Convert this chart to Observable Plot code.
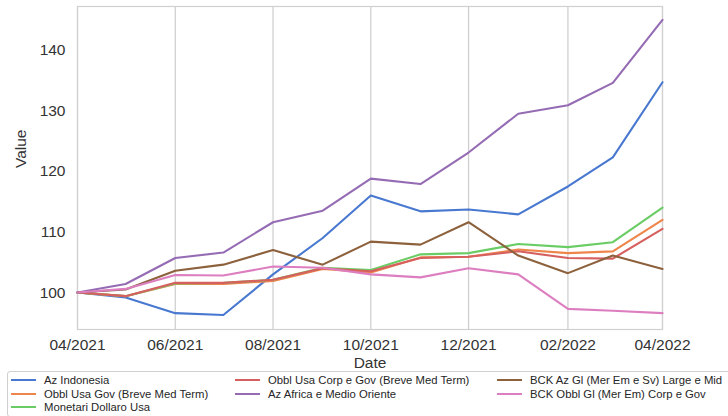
<!DOCTYPE html>
<html>
<head>
<meta charset="utf-8">
<script src="https://cdn.jsdelivr.net/npm/d3@7"></script>
<script src="https://cdn.jsdelivr.net/npm/@observablehq/plot@0.6"></script>
<style>
  html, body { margin: 0; padding: 0; background: #fff; }
  #wrap { position: relative; width: 728px; height: 416px; overflow: hidden; font-family: "Liberation Sans", Arial, sans-serif; }
  #legend { position: absolute; left: 7px; top: 371px; width: 740px; height: 46px; border: 1px solid #d0d0d0; border-radius: 3px; box-sizing: border-box; background: #fff; }
  .item { position: absolute; height: 14px; font-size: 11.3px; color: #262626; white-space: nowrap; line-height: 14px; }
  .item .sw { position: absolute; left: 0; top: 6px; width: 25px; height: 2px; }
  .item .lb { position: absolute; left: 33px; top: 0; }
</style>
</head>
<body>
<div id="wrap"></div>
<script>
const dates = ["2021-04-01","2021-05-01","2021-06-01","2021-07-01","2021-08-01","2021-09-01","2021-10-01","2021-11-01","2021-12-01","2022-01-01","2022-02-01","2022-03-01","2022-04-01"];
const xTickDates = ["2021-04-01","2021-06-01","2021-08-01","2021-10-01","2021-12-01","2022-02-01","2022-04-01"];
const seriesNames = [
  "Az Indonesia",
  "Obbl Usa Gov (Breve Med Term)",
  "Monetari Dollaro Usa",
  "Obbl Usa Corp e Gov (Breve Med Term)",
  "Az Africa e Medio Oriente",
  "BCK Az Gl (Mer Em e Sv) Large e Mid",
  "BCK Obbl Gl (Mer Em) Corp e Gov"
];
const azIndonesia   = [100, 99.2, 96.6, 96.3, 103.0, 109.0, 116.0, 113.4, 113.7, 112.9, 117.5, 122.3, 134.7];
const obblUsaGov    = [100, 99.4, 101.4, 101.4, 101.9, 103.9, 103.3, 105.8, 105.9, 107.1, 106.5, 106.8, 112.0];
const monetariUsd   = [100, 99.4, 101.5, 101.6, 102.1, 104.1, 103.7, 106.3, 106.5, 108.0, 107.5, 108.3, 114.0];
const obblUsaCorp   = [100, 99.4, 101.6, 101.6, 102.1, 104.0, 103.5, 105.7, 105.9, 106.8, 105.7, 105.6, 110.5];
const azAfrica      = [100, 101.4, 105.7, 106.6, 111.6, 113.5, 118.8, 117.9, 123.1, 129.5, 130.9, 134.6, 145.0];
const bckAzGl       = [100, 100.5, 103.6, 104.6, 107.0, 104.6, 108.4, 107.9, 111.6, 106.1, 103.2, 106.1, 103.9];
const bckObblGl     = [100, 100.6, 102.9, 102.8, 104.3, 104.1, 103.0, 102.5, 104.0, 103.0, 97.3, 97.0, 96.6];
const yTicks = [100, 110, 120, 130, 140];
const colors = ["#4878d0", "#ee854a", "#6acc64", "#d65f5f", "#956cb4", "#8c613c", "#dc7ec0"];

const seriesValues = [azIndonesia, obblUsaGov, monetariUsd, obblUsaCorp, azAfrica, bckAzGl, bckObblGl];
const parse = d3.utcParse("%Y-%m-%d");
const rows = [];
seriesNames.forEach((name, s) => {
  seriesValues[s].forEach((v, i) => rows.push({series: name, date: parse(dates[i]), value: v}));
});
const xTicks = xTickDates.map(parse);

const chart = Plot.plot({
  width: 728,
  height: 370,
  marginTop: 6,
  marginBottom: 41,
  marginLeft: 77,
  marginRight: 66,
  style: {fontFamily: "Liberation Sans, Arial, sans-serif", fontSize: "15.5px", color: "#333", background: "#fff"},
  x: {type: "utc", domain: [parse(dates[0]), parse(dates[dates.length - 1])]},
  y: {domain: [93.9, 147.2]},
  color: {domain: seriesNames, range: colors},
  marks: [
    Plot.gridX(xTicks, {stroke: "#cccccc", strokeOpacity: 1, strokeWidth: 1.2}),
    Plot.frame({stroke: "#d0d0d0", strokeWidth: 1.2}),
    Plot.axisX({ticks: xTicks, tickFormat: d3.utcFormat("%m/%Y"), tickSize: 0, tickPadding: 9, label: null}),
    Plot.axisY({ticks: yTicks, tickSize: 0, tickPadding: 12, label: null}),
    Plot.text(["Date"], {frameAnchor: "bottom", dy: 38, fontSize: 15.5, fill: "#333"}),
    Plot.text(["Value"], {frameAnchor: "left", dx: -56.5, rotate: -90, fontSize: 15.5, fill: "#333"}),
    Plot.line(rows, {x: "date", y: "value", z: "series", stroke: "series", strokeWidth: 2.1, strokeLinejoin: "round"})
  ]
});

const wrap = document.getElementById("wrap");
wrap.appendChild(chart);

const legend = document.createElement("div");
legend.id = "legend";
wrap.appendChild(legend);
const colX = [3, 227, 489];
const rowY = [1, 14.5, 28];
const layout = [[0,0],[0,1],[0,2],[1,0],[1,1],[2,0],[2,1]];
seriesNames.forEach((name, i) => {
  const [c, r] = layout[i];
  const it = document.createElement("div");
  it.className = "item";
  it.style.left = colX[c] + "px";
  it.style.top = rowY[r] + "px";
  const sw = document.createElement("span");
  sw.className = "sw";
  sw.style.background = colors[i];
  const lb = document.createElement("span");
  lb.className = "lb";
  lb.textContent = name;
  it.appendChild(sw);
  it.appendChild(lb);
  legend.appendChild(it);
});
</script>
</body>
</html>
